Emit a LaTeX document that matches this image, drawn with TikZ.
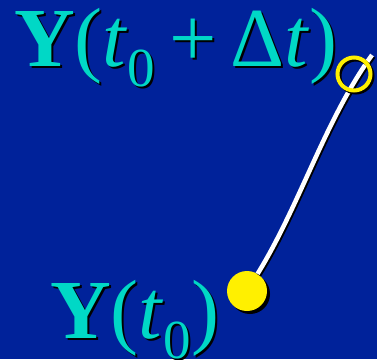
\documentclass[tikz,border=0pt]{standalone}
\usepackage{fontspec}
\setmainfont{Liberation Serif}
\usepackage{tikz}
\usetikzlibrary{positioning}
\definecolor{slidebg}{RGB}{0,34,154}
\definecolor{labcyan}{RGB}{0,216,198}
\definecolor{dotyellow}{RGB}{255,240,0}
% text with a small black drop shadow
\newcommand{\shtext}[1]{\makebox[0pt][l]{\kern2pt\raisebox{-2pt}{\color{black}#1}}#1}
\newcommand{\subzero}{\lower20pt\hbox{\fontsize{55}{55}\selectfont 0}}

\begin{document}
\begin{tikzpicture}[x=1pt,y=-1pt]
\tikzset{
  lab/.style={inner sep=0pt,anchor=base west,text=labcyan,font=\fontsize{84}{90}\selectfont},
  dot/.style={circle,inner sep=0pt,minimum size=#1},
}
\fill[slidebg] (0,0) rectangle (377,359);
\useasboundingbox (0,0) rectangle (377,359);
% labels
\node[lab] (ynext) at (14,66) {\shtext{{\bfseries Y}(\textit{t}\subzero\,+\,Δ\textit{t})}};
\node[lab] (ynow) at (50,338) {\shtext{{\bfseries Y}(\textit{t}\subzero)}};
% points
\fill[black] (250,294) circle (20pt);
\node[dot=40pt,fill=dotyellow] (start) at (247,291) {};
\coordinate (tip) at (372,55);
% path, shadow first
\draw[black,line width=4.5pt,transform canvas={shift={(1.5pt,-1.5pt)}}] (start) .. controls (300,205) and (325,120) .. (tip);
\draw[white,line width=4.5pt] (start) .. controls (300,205) and (325,120) .. (tip);
\draw[black,line width=4pt] (356,76) circle (16.5pt);
\node[dot=33pt,draw=dotyellow,line width=4pt] (open) at (354,74) {};
\end{tikzpicture}
\end{document}
